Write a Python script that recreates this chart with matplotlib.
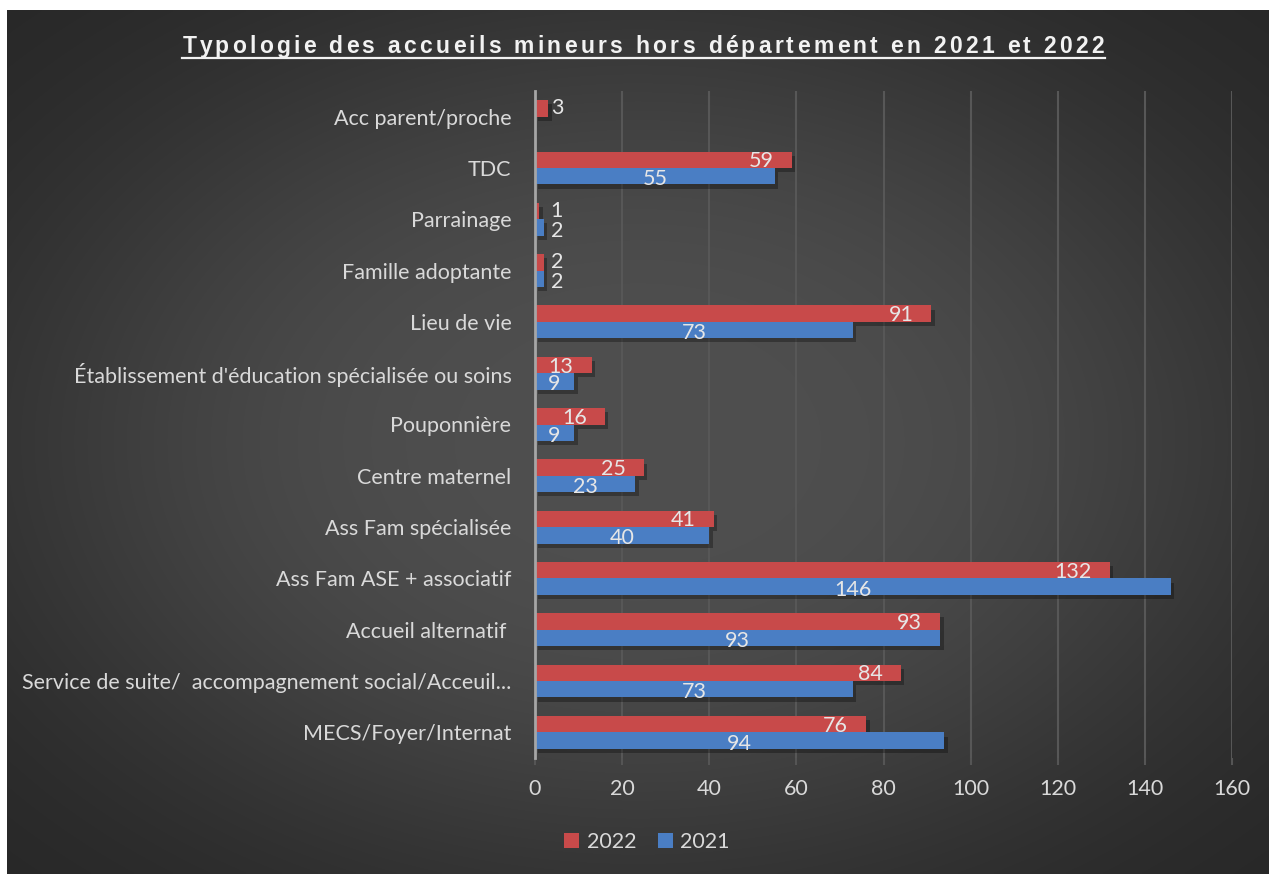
import numpy as np
import matplotlib
matplotlib.use("Agg")
import matplotlib.pyplot as plt
from matplotlib.patches import Patch
from matplotlib.lines import Line2D
from matplotlib.font_manager import FontProperties
import matplotlib.patheffects as pe

# ---------------- data ----------------
categories = [
    "Acc parent/proche",
    "TDC",
    "Parrainage",
    "Famille adoptante",
    "Lieu de vie",
    "Établissement d'éducation spécialisée ou soins",
    "Pouponnière",
    "Centre maternel",
    "Ass Fam spécialisée",
    "Ass Fam ASE + associatif",
    "Accueil alternatif ",
    "Service de suite/  accompagnement social/Acceuil...",
    "MECS/Foyer/Internat",
]
values_2022 = [3, 59, 1, 2, 91, 13, 16, 25, 41, 132, 93, 84, 76]
values_2021 = [None, 55, 2, 2, 73, 9, 9, 23, 40, 146, 93, 73, 94]
series_names = ["2022", "2021"]
x_ticks = [0, 20, 40, 60, 80, 100, 120, 140, 160]
title = "Typologie des accueils mineurs hors département en 2021 et 2022"

# ---------------- style ----------------
W, H = 1269, 874
DPI = 100
RED = "#C84A4A"
BLUE = "#4A7EC4"
TXT = "#D9D9D9"
FONT = "Lato"

fig = plt.figure(figsize=(W / DPI, H / DPI), dpi=DPI, facecolor="white")

# background radial gradient panel
bg = fig.add_axes([7 / W, 0, 1 - 7 / W, 1 - 10 / H])
bg.set_axis_off()
gx = np.linspace(0, 1, 400)
gy = np.linspace(0, 1, 300)
XX, YY = np.meshgrid(gx, gy)
r = np.sqrt(((XX - 0.5) / 0.5) ** 2 + ((YY - 0.5) / 0.5) ** 2)
c = 38 + 41 * np.exp(-(r / 1.0) ** 3)
img = np.dstack([c, c, c]) / 255.0
bg.imshow(img, aspect="auto", extent=[0, 1, 0, 1], origin="lower", interpolation="bilinear")
bg.set_xlim(0, 1)
bg.set_ylim(0, 1)

# main axes
left, right = 535 / W, 1232 / W
top, bottom = 1 - 91 / H, 1 - 758 / H
ax = fig.add_axes([left, bottom, right - left, top - bottom])
ax.set_facecolor("none")

n = len(categories)
pos = np.arange(n)[::-1]  # first category on top
bh = 0.32
px_per_unit = (1232 - 535) / 160.0

shadow = [pe.SimplePatchShadow(offset=(2.5, -3), shadow_rgbFace="black", alpha=0.3), pe.Normal()]
LBL = dict(color="#E6E6E6", fontsize=15.5, family=FONT, zorder=5, va="center")

for i in range(n):
    y = pos[i]
    v22 = values_2022[i]
    v21 = values_2021[i]
    if v22 is not None:
        b = ax.barh(y + bh / 2, v22, height=bh, color=RED, zorder=3)
        for p in b:
            p.set_path_effects(shadow)
        if v22 >= 5:
            ax.text(v22 - 18 / px_per_unit, y + bh / 2 - 0.03, str(v22), ha="right", **LBL)
        else:
            ax.text(3.6, y + bh / 2 + 0.01, str(v22), ha="left", **LBL)
    if v21 is not None:
        b = ax.barh(y - bh / 2, v21, height=bh, color=BLUE, zorder=3)
        for p in b:
            p.set_path_effects(shadow)
        if v21 >= 5:
            ax.text(v21 / 2, y - bh / 2 - 0.06, str(v21), ha="center", **LBL)
        else:
            ax.text(3.6, y - bh / 2 - 0.06, str(v21), ha="left", **LBL)

ax.set_xlim(0, 160)
ax.set_ylim(-0.5, n - 0.5)
ax.set_xticks(x_ticks)
ax.set_xticklabels([str(t) for t in x_ticks], family=FONT, fontsize=15.5, color=TXT)
ax.set_yticks(pos)
ax.set_yticklabels(categories, family=FONT, fontsize=15.5, color=TXT)
ax.tick_params(axis="y", length=0, pad=17)
ax.tick_params(axis="x", length=5, width=1.5, color="#555555", pad=10)
ax.grid(axis="x", color="#575757", linewidth=1.5, zorder=0)
ax.set_axisbelow(True)
for s in ["top", "right", "bottom"]:
    ax.spines[s].set_visible(False)
ax.spines["left"].set_color("#A6A6A6")
ax.spines["left"].set_linewidth(2)
ax.spines["left"].set_zorder(6)

# legend
handles = [Patch(facecolor=RED, edgecolor="none"), Patch(facecolor=BLUE, edgecolor="none")]
leg = fig.legend(handles, series_names, loc="center", bbox_to_anchor=(647 / W, 1 - 842 / H),
                 ncol=2, frameon=False, handlelength=0.7, handleheight=0.7,
                 handletextpad=0.35, columnspacing=1.0,
                 prop={"family": FONT, "size": 15.5})
for t in leg.get_texts():
    t.set_color(TXT)

# title with letter spacing and underline
renderer = fig.canvas.get_renderer()
tprop = FontProperties(family="Liberation Sans", weight="bold", size=16.5)


def text_w(s):
    w1, _, _ = renderer.get_text_width_height_descent(s + "x", tprop, ismath=False)
    w2, _, _ = renderer.get_text_width_height_descent("x", tprop, ismath=False)
    return w1 - w2


x0_px, x1_px = 183, 1104
natural = text_w(title)
spacing = (x1_px - x0_px - natural) / (len(title) - 1)
baseline_px = 53
for i, ch in enumerate(title):
    xp = x0_px + text_w(title[:i]) + i * spacing
    fig.text(xp / W, 1 - baseline_px / H, ch, fontproperties=tprop, color="#F2F2F2",
             ha="left", va="baseline")
fig.add_artist(Line2D([182 / W, 1105 / W], [1 - 57.5 / H, 1 - 57.5 / H],
                      color="#F2F2F2", linewidth=1.6, transform=fig.transFigure))

fig.savefig("out.png", dpi=DPI, facecolor=fig.get_facecolor())
